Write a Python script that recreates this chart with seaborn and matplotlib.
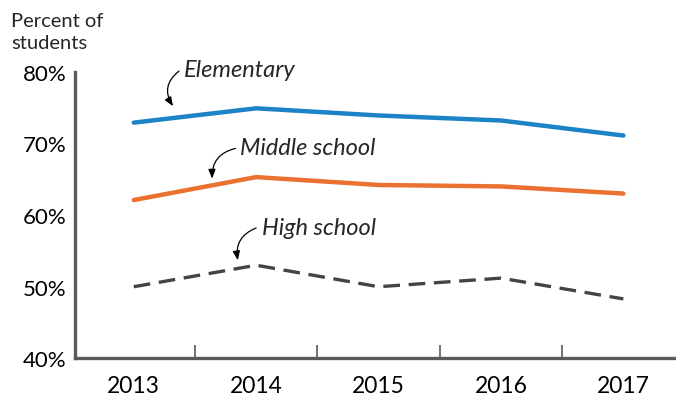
import matplotlib
matplotlib.use("Agg")
import matplotlib.pyplot as plt
import seaborn as sns

# Share of students, by school level
years = [2013, 2014, 2015, 2016, 2017]
elementary = [72.9, 74.9, 73.9, 73.2, 71.1]
middle_school = [62.1, 65.3, 64.2, 64.0, 63.0]
high_school = [50.0, 53.0, 50.0, 51.2, 48.3]

y_ticks = [40, 50, 60, 70, 80]
y_tick_labels = ["40%", "50%", "60%", "70%", "80%"]

sns.set_theme(style="white")
plt.rcParams["font.family"] = ["Lato", "DejaVu Sans"]

fig = plt.figure(figsize=(6.76, 4.02), dpi=100)
ax = fig.add_axes([0.111, 0.106, 0.889, 0.713])

axis_grey = "#5a5a5a"
sns.lineplot(x=years, y=elementary, ax=ax, color="#1c84c6", linewidth=3.2,
             solid_capstyle="round")
sns.lineplot(x=years, y=middle_school, ax=ax, color="#eb7130", linewidth=3.2,
             solid_capstyle="round")
sns.lineplot(x=years, y=high_school, ax=ax, color="#444444", linewidth=2.4)
ax.lines[-1].set_dashes([5, 2.6])

ax.set_xlim(2012.52, 2017.43)
ax.set_ylim(40, 80)

ax.set_yticks(y_ticks)
ax.set_yticklabels(y_tick_labels)
ax.set_xticks(years)
ax.set_xticklabels([str(y) for y in years])
ax.set_xticks([2013.5, 2014.5, 2015.5, 2016.5], minor=True)

ax.tick_params(axis="y", which="major", direction="in", length=11, width=1.2,
               color=axis_grey, pad=6, labelsize=16, labelcolor="black")
ax.tick_params(axis="x", which="major", length=0, pad=12, labelsize=16.5,
               labelcolor="black")
ax.tick_params(axis="x", which="minor", direction="in", length=9.5, width=1.2,
               color=axis_grey, bottom=True)

for side in ("top", "right"):
    ax.spines[side].set_visible(False)
for side in ("left", "bottom"):
    ax.spines[side].set_color(axis_grey)
    ax.spines[side].set_linewidth(2.4)

# y-axis title, two lines above the axis
fig.text(0.017, 0.9336, "Percent of", fontsize=14.5, ha="left", va="baseline")
fig.text(0.017, 0.878, "students", fontsize=14.5, ha="left", va="baseline")

arrow = dict(arrowstyle="-|>,head_length=0.45,head_width=0.18", color="black",
             lw=0.9, shrinkA=0, shrinkB=0)
label_style = dict(style="italic", fontsize=17, ha="left", va="baseline")

ax.annotate("", xy=(2013.32, 75.2), xytext=(2013.37, 80.1),
            arrowprops=dict(connectionstyle="arc3,rad=0.45", **arrow),
            annotation_clip=False)
ax.text(2013.41, 79.44, "Elementary", clip_on=False, **label_style)

ax.annotate("", xy=(2013.64, 65.1), xytext=(2013.83, 69.3),
            arrowprops=dict(connectionstyle="arc3,rad=0.4", **arrow))
ax.text(2013.87, 68.51, "Middle school", **label_style)

ax.annotate("", xy=(2013.85, 53.7), xytext=(2014.0, 58.2),
            arrowprops=dict(connectionstyle="arc3,rad=0.4", **arrow))
ax.text(2014.05, 57.35, "High school", **label_style)

fig.savefig("out.png", dpi=100)
